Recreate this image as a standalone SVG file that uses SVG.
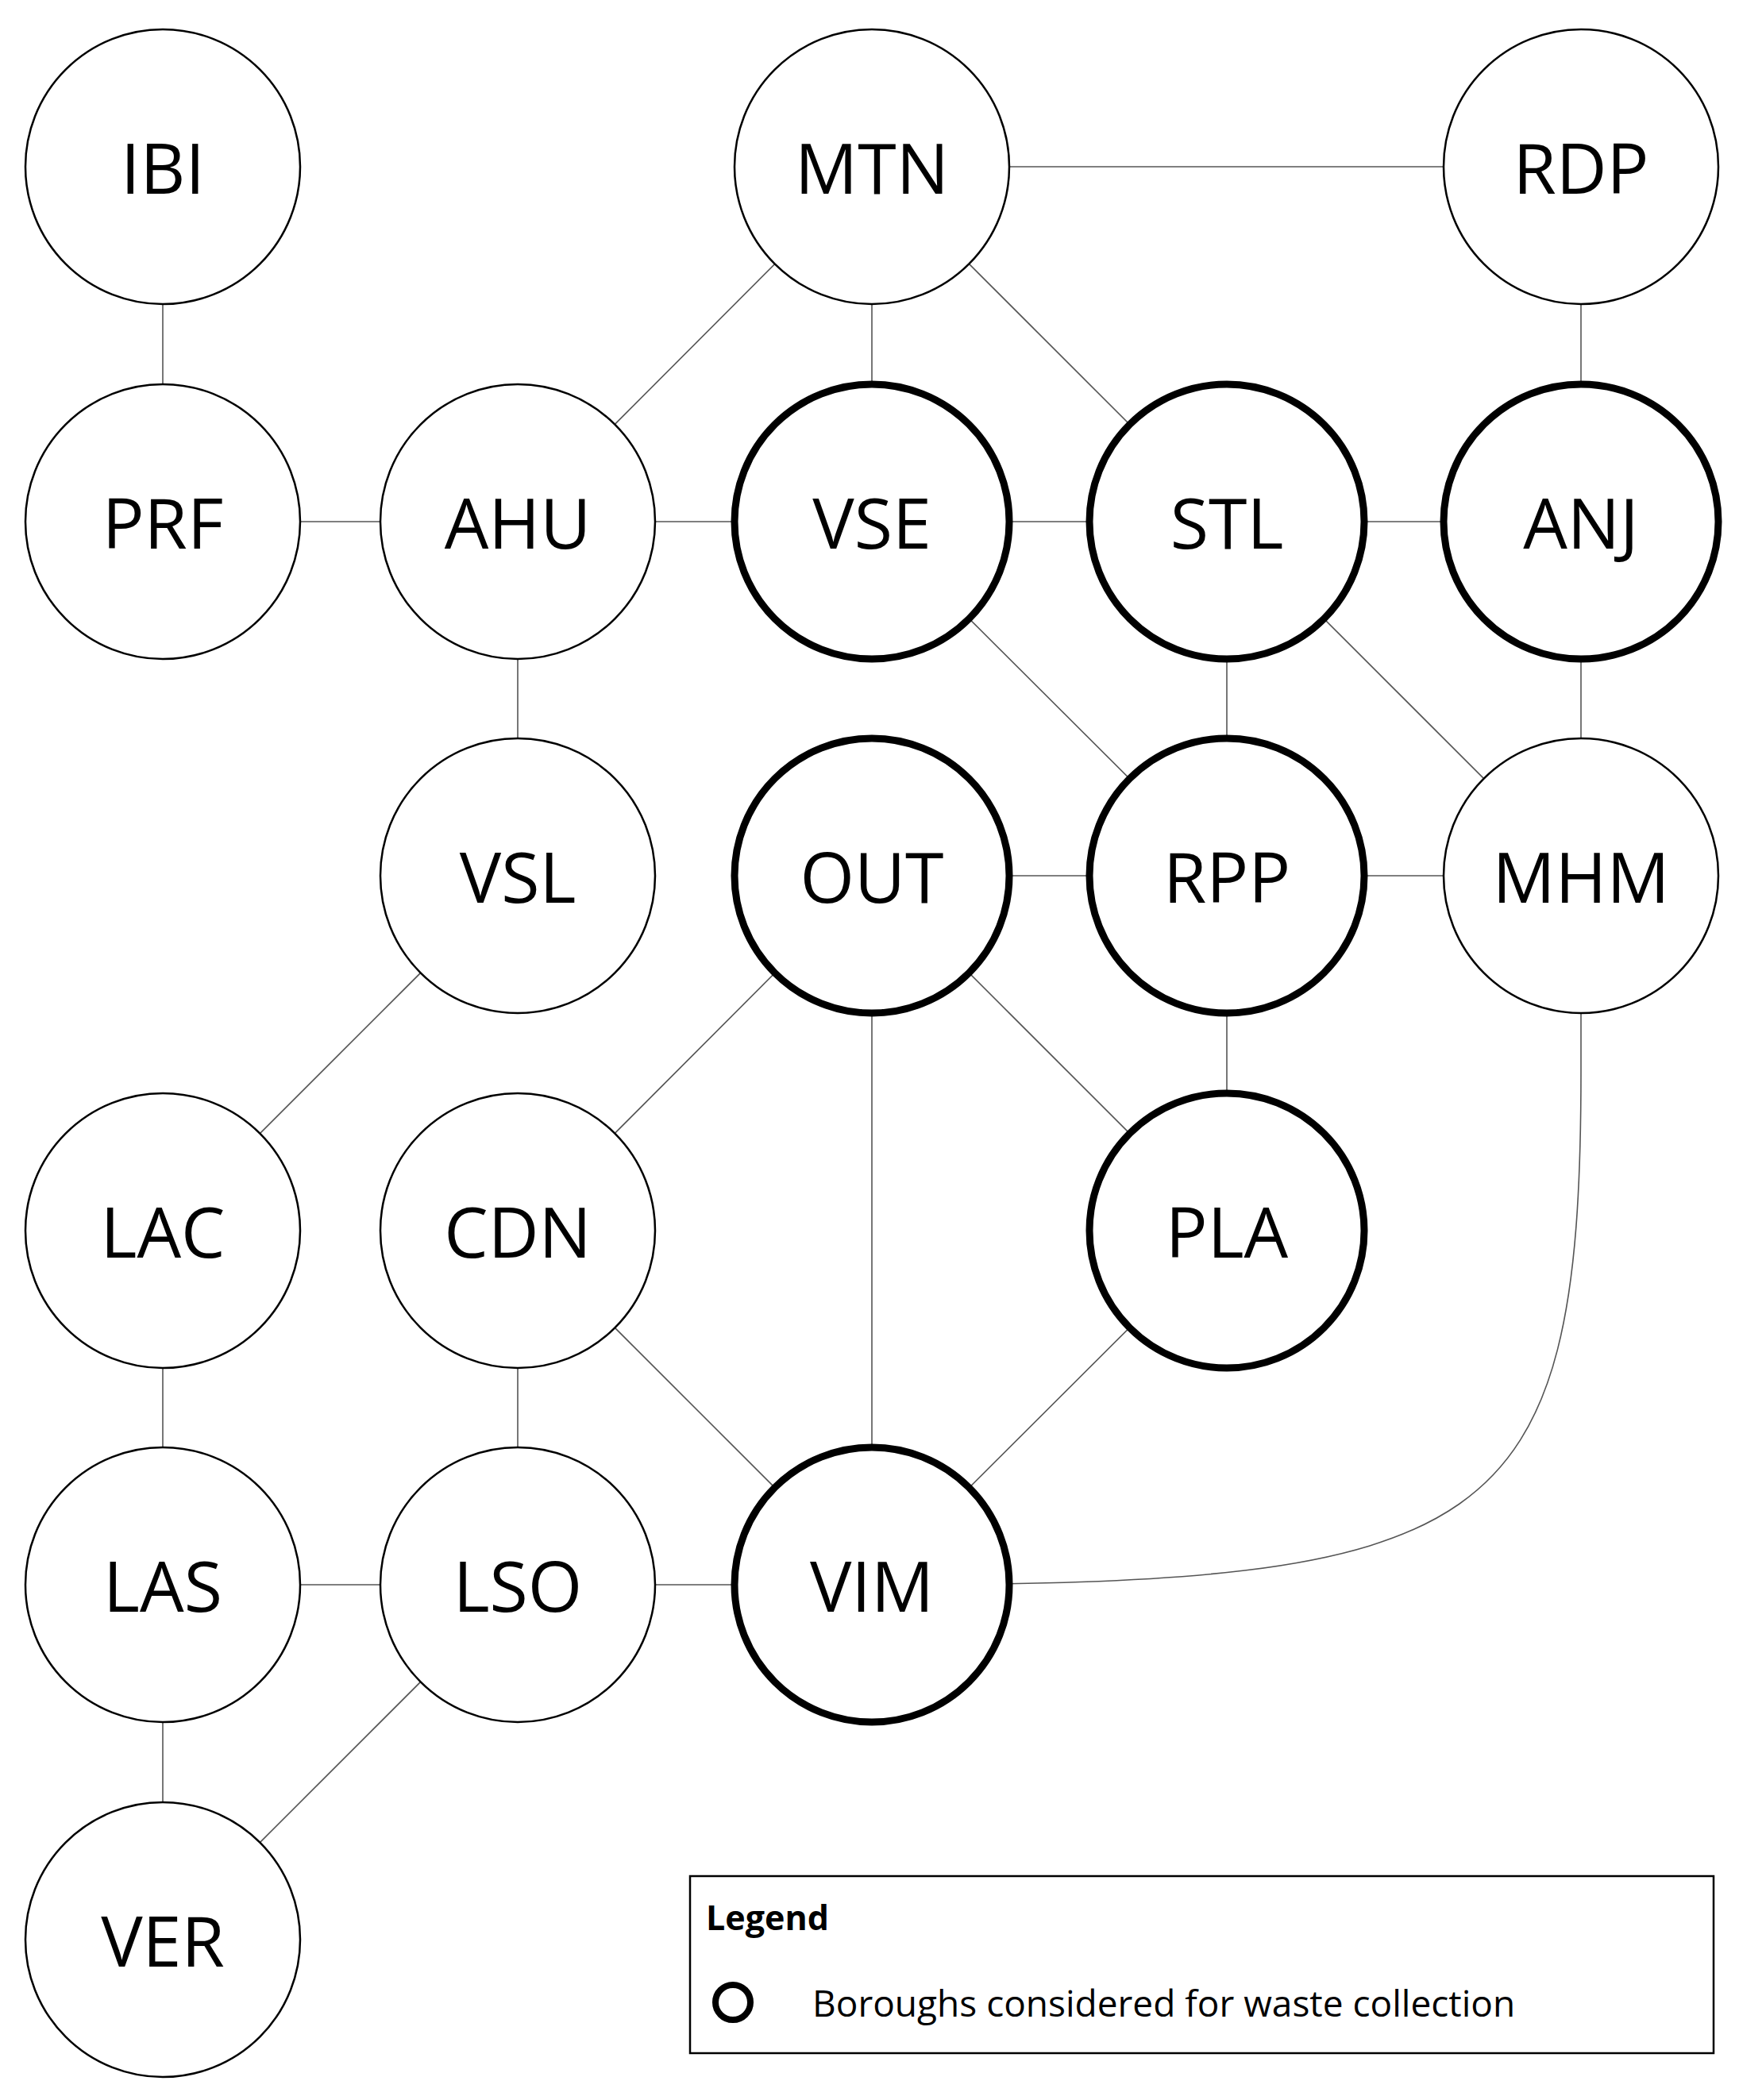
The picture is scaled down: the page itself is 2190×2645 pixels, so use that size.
<svg xmlns="http://www.w3.org/2000/svg" width="2190" height="2645" viewBox="0 0 2190 2645">
<style>
.n{fill:#fff;stroke:#000;stroke-width:2.5}
.b{fill:#fff;stroke:#000;stroke-width:9}
.t{font-family:"Open Sans","Liberation Sans",sans-serif;font-size:88px;text-anchor:middle;dominant-baseline:central;fill:#000}
#edges line,#edges path{stroke:#555;stroke-width:1.6;fill:none}
</style>
<rect width="2190" height="2645" fill="#fff"/>
<g id="edges">
<line x1="205" y1="210" x2="205" y2="657"/>
<line x1="1098" y1="210" x2="1991" y2="210"/>
<line x1="1098" y1="210" x2="652" y2="657"/>
<line x1="1098" y1="210" x2="1098" y2="657"/>
<line x1="1098" y1="210" x2="1545" y2="657"/>
<line x1="1991" y1="210" x2="1991" y2="657"/>
<line x1="205" y1="657" x2="1991" y2="657"/>
<line x1="652" y1="657" x2="652" y2="1103"/>
<line x1="1098" y1="657" x2="1545" y2="1103"/>
<line x1="1545" y1="657" x2="1545" y2="1103"/>
<line x1="1545" y1="657" x2="1991" y2="1103"/>
<line x1="1991" y1="657" x2="1991" y2="1103"/>
<line x1="1098" y1="1103" x2="1991" y2="1103"/>
<line x1="652" y1="1103" x2="205" y2="1550"/>
<line x1="1098" y1="1103" x2="652" y2="1550"/>
<line x1="1098" y1="1103" x2="1098" y2="1996"/>
<line x1="1098" y1="1103" x2="1545" y2="1550"/>
<line x1="1545" y1="1103" x2="1545" y2="1550"/>
<path d="M1991 1103 L1991 1350 C1991 1940 1880 1996 1098 1996"/>
<line x1="205" y1="1550" x2="205" y2="2443"/>
<line x1="652" y1="1550" x2="652" y2="1996"/>
<line x1="652" y1="1550" x2="1098" y2="1996"/>
<line x1="1545" y1="1550" x2="1098" y2="1996"/>
<line x1="205" y1="1996" x2="1098" y2="1996"/>
<line x1="652" y1="1996" x2="205" y2="2443"/>
</g>
<g id="IBI"><circle class="n" cx="205" cy="210" r="173"/><text class="t" x="205" y="210">IBI</text></g>
<g id="MTN"><circle class="n" cx="1098" cy="210" r="173"/><text class="t" x="1098" y="210">MTN</text></g>
<g id="RDP"><circle class="n" cx="1991" cy="210" r="173"/><text class="t" x="1991" y="210">RDP</text></g>
<g id="PRF"><circle class="n" cx="205" cy="657" r="173"/><text class="t" x="205" y="657">PRF</text></g>
<g id="AHU"><circle class="n" cx="652" cy="657" r="173"/><text class="t" x="652" y="657">AHU</text></g>
<g id="VSE"><circle class="b" cx="1098" cy="657" r="173"/><text class="t" x="1098" y="657">VSE</text></g>
<g id="STL"><circle class="b" cx="1545" cy="657" r="173"/><text class="t" x="1545" y="657">STL</text></g>
<g id="ANJ"><circle class="b" cx="1991" cy="657" r="173"/><text class="t" x="1991" y="657">ANJ</text></g>
<g id="VSL"><circle class="n" cx="652" cy="1103" r="173"/><text class="t" x="652" y="1103">VSL</text></g>
<g id="OUT"><circle class="b" cx="1098" cy="1103" r="173"/><text class="t" x="1098" y="1103">OUT</text></g>
<g id="RPP"><circle class="b" cx="1545" cy="1103" r="173"/><text class="t" x="1545" y="1103">RPP</text></g>
<g id="MHM"><circle class="n" cx="1991" cy="1103" r="173"/><text class="t" x="1991" y="1103">MHM</text></g>
<g id="LAC"><circle class="n" cx="205" cy="1550" r="173"/><text class="t" x="205" y="1550">LAC</text></g>
<g id="CDN"><circle class="n" cx="652" cy="1550" r="173"/><text class="t" x="652" y="1550">CDN</text></g>
<g id="PLA"><circle class="b" cx="1545" cy="1550" r="173"/><text class="t" x="1545" y="1550">PLA</text></g>
<g id="LAS"><circle class="n" cx="205" cy="1996" r="173"/><text class="t" x="205" y="1996">LAS</text></g>
<g id="LSO"><circle class="n" cx="652" cy="1996" r="173"/><text class="t" x="652" y="1996">LSO</text></g>
<g id="VIM"><circle class="b" cx="1098" cy="1996" r="173"/><text class="t" x="1098" y="1996">VIM</text></g>
<g id="VER"><circle class="n" cx="205" cy="2443" r="173"/><text class="t" x="205" y="2443">VER</text></g>
<g id="legend">
<rect x="869" y="2363" width="1289" height="223" fill="#fff" stroke="#000" stroke-width="2.5"/>
<text x="889" y="2414" font-family="'Open Sans','Liberation Sans',sans-serif" font-size="43" font-weight="bold" dominant-baseline="central">Legend</text>
<circle cx="923" cy="2522" r="22" fill="#fff" stroke="#000" stroke-width="8"/>
<text x="1023" y="2522" font-family="'Open Sans','Liberation Sans',sans-serif" font-size="46" dominant-baseline="central">Boroughs considered for waste collection</text>
</g>
</svg>
